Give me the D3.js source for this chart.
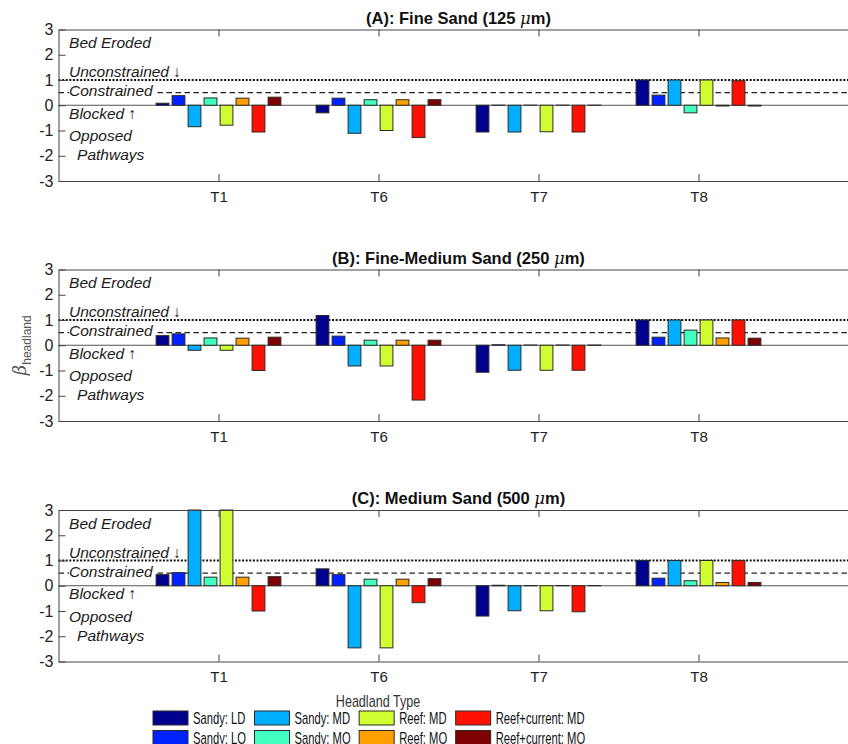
<!DOCTYPE html>
<html>
<head>
<meta charset="utf-8">
<script src="https://cdn.jsdelivr.net/npm/d3@7"></script>
<style>
  body { margin: 0; background: #fff; }
  svg { display: block; font-family: "Liberation Sans", Arial, Helvetica, sans-serif; }
</style>
</head>
<body>
<div id="chart"></div>
<script>
// headland types (legend order) and their jet-ish colours
const series = ["Sandy: LD", "Sandy: LO", "Sandy: MD", "Sandy: MO",
                "Reef: MD", "Reef: MO", "Reef+current: MD", "Reef+current: MO"];
const colors = ["#00008f", "#0022ff", "#00afff", "#40ffc0",
                "#cfff30", "#ff9f00", "#ff1000", "#7f0000"];
const groups = ["T1", "T6", "T7", "T8"];
const yTicks = [-3, -2, -1, 0, 1, 2, 3];

const panelTitles = ["(A): Fine Sand (125 ", "(B): Fine-Medium Sand (250 ", "(C): Medium Sand (500 "];

// beta_headland per group (rows) and headland type (columns)
const fineSand = [
    [0.08, 0.38, -0.85, 0.29, -0.79, 0.28, -1.06, 0.32],
    [-0.30, 0.28, -1.11, 0.22, -1.00, 0.22, -1.28, 0.22],
    [-1.06, 0.005, -1.06, 0.005, -1.05, 0.005, -1.06, 0.005],
    [1.00, 0.40, 1.00, -0.30, 1.00, -0.03, 0.97, -0.03]
];
const fineMediumSand = [
    [0.38, 0.45, -0.20, 0.29, -0.20, 0.28, -1.00, 0.32],
    [1.18, 0.36, -0.82, 0.20, -0.82, 0.20, -2.17, 0.20],
    [-1.07, 0.02, -0.99, 0.01, -0.99, 0.01, -0.99, 0.01],
    [1.00, 0.32, 1.00, 0.60, 1.00, 0.29, 1.00, 0.28]
];
const mediumSand = [
    [0.44, 0.52, 3.5, 0.34, 3.5, 0.34, -1.00, 0.36],
    [0.67, 0.44, -2.46, 0.26, -2.46, 0.26, -0.67, 0.28],
    [-1.20, 0.02, -0.99, 0.01, -0.99, 0.01, -1.03, 0.01],
    [1.00, 0.30, 1.00, 0.20, 1.00, 0.13, 1.00, 0.13]
];
const panels = [fineSand, fineMediumSand, mediumSand];

// regime labels written inside each panel
const regimeLabels = ["Bed Eroded", "Unconstrained \u2193", "Constrained", "Blocked \u2191", "Opposed", "Pathways"];
const regimeBaselines = [2.25, 1.1, 0.36, -0.53, -1.42, -2.17];

const width = 848, height = 744;
const svg = d3.select("#chart").append("svg")
    .attr("width", width)
    .attr("height", height);

// plot box runs off the right edge of the window, as in the source figure
const x = d3.scaleLinear().domain([0, 5]).range([58.5, 858.5]);
const panelTop = [29.5, 269.5, 510];
const panelH = 151.5;
const barStep = 0.1, barWidth = 0.08;
const axisColor = "#444";

panels.forEach((data, p) => {
    const y = d3.scaleLinear().domain([-3, 3]).range([panelTop[p] + panelH, panelTop[p]]).clamp(true);
    const g = svg.append("g");

    // reference lines
    g.append("line")
        .attr("x1", x(0)).attr("x2", x(5))
        .attr("y1", y(0)).attr("y2", y(0))
        .style("stroke", "#555").style("stroke-width", 1.2);
    g.append("line")
        .attr("x1", x(0)).attr("x2", x(5))
        .attr("y1", y(1)).attr("y2", y(1))
        .style("stroke", "#111").style("stroke-width", 2)
        .style("stroke-dasharray", "2,1.6");
    g.append("line")
        .attr("x1", x(0)).attr("x2", x(5))
        .attr("y1", y(0.5)).attr("y2", y(0.5))
        .style("stroke", "#222").style("stroke-width", 1.2)
        .style("stroke-dasharray", "5.5,3.5");

    // bars
    const flat = [];
    data.forEach((row, gi) => row.forEach((v, si) => flat.push({ gi, si, v })));
    g.append("g").selectAll("rect")
        .data(flat)
        .enter().append("rect")
        .attr("x", d => x(d.gi + 1 + (d.si - 3.5) * barStep - barWidth / 2))
        .attr("width", x(barWidth) - x(0))
        .attr("y", d => Math.min(y(d.v), y(0)))
        .attr("height", d => Math.abs(y(d.v) - y(0)))
        .style("fill", d => colors[d.si])
        .style("stroke", "#2a2a2a")
        .style("stroke-width", 1);

    // axes (ticks point inward)
    const yAxis = d3.axisLeft(y).tickValues(yTicks).tickFormat(d => String(d))
        .tickSizeInner(-7).tickSizeOuter(0).tickPadding(5);
    const yg = g.append("g").attr("transform", `translate(${x(0)},0)`).call(yAxis);
    const xAxis = d3.axisBottom(x).tickValues([1, 2, 3, 4])
        .tickFormat(i => groups[i - 1]).tickSizeInner(-7).tickSizeOuter(0).tickPadding(10);
    const xg = g.append("g").attr("transform", `translate(0,${y(-3)})`).call(xAxis);
    const topAxis = d3.axisTop(x).tickValues([1, 2, 3, 4])
        .tickFormat("").tickSizeInner(-7).tickSizeOuter(0);
    const tg = g.append("g").attr("transform", `translate(0,${y(3)})`).call(topAxis);
    [yg, xg, tg].forEach(a => {
        a.selectAll("path, line").style("stroke", axisColor).style("stroke-width", 1);
        a.selectAll("text").style("font-size", "16px").style("fill", "#222")
            .style("font-family", "'Liberation Sans', Arial, sans-serif");
    });
    xg.selectAll("text").style("font-size", "15px");

    // regime annotations
    regimeLabels.forEach((lab, k) => {
        const t = g.append("text")
            .attr("x", x(lab === "Pathways" ? 0.116 : 0.066))
            .attr("y", y(regimeBaselines[k]))
            .style("font-size", "15.5px")
            .style("font-style", "italic")
            .style("fill", "#1a1a1a")
            .text(lab);
        if (lab === "Constrained") {
            const b = t.node().getBBox();
            g.insert("rect", () => t.node())
                .attr("x", b.x).attr("y", b.y)
                .attr("width", b.width + 1).attr("height", b.height)
                .style("fill", "#fff");
        }
    });

    // title
    const title = g.append("text")
        .attr("x", (x(0) + x(5)) / 2)
        .attr("y", panelTop[p] - 6)
        .attr("text-anchor", "middle")
        .style("font-size", "16.5px")
        .style("font-weight", "bold")
        .style("fill", "#111");
    title.append("tspan").text(panelTitles[p]);
    title.append("tspan").style("font-style", "italic").style("font-weight", "normal")
        .style("font-family", "'DejaVu Serif', serif").text("\u03bc");
    title.append("tspan").text("m)");
});

// y axis label: beta_headland
const yl = svg.append("text")
    .attr("transform", `translate(26,${(panelTop[1] + panelH / 2)}) rotate(-90)`)
    .attr("text-anchor", "middle")
    .style("fill", "#555");
yl.append("tspan").style("font-family", "'DejaVu Serif', serif").style("font-style", "italic")
    .style("font-size", "18px").text("\u03b2");
yl.append("tspan").attr("dy", 5).style("font-size", "12px").text("headland");

// legend
const legend = svg.append("g");
legend.append("text")
    .attr("x", 378).attr("y", 707)
    .attr("text-anchor", "middle")
    .style("font-size", "17px")
    .style("fill", "#333")
    .text("Headland Type")
    .each(function() {
        const w = this.getComputedTextLength();
        d3.select(this).attr("textLength", w * 0.74).attr("lengthAdjust", "spacingAndGlyphs");
    });

const swW = 35, swH = 14, rowH = 19.5, squeeze = 0.66;
let colX = 153;
for (let c = 0; c < 4; c++) {
    let colW = 0;
    for (let r = 0; r < 2; r++) {
        const si = c * 2 + r;
        const yy = 711 + r * rowH;
        legend.append("rect")
            .attr("x", colX).attr("y", yy)
            .attr("width", swW).attr("height", swH)
            .style("fill", colors[si])
            .style("stroke", "#2a2a2a").style("stroke-width", 1);
        const t = legend.append("text")
            .attr("x", colX + swW + 5).attr("y", yy + swH / 2)
            .attr("dy", "0.36em")
            .style("font-size", "17px")
            .style("fill", "#111")
            .text(series[si]);
        const w = t.node().getComputedTextLength() * squeeze;
        t.attr("textLength", w).attr("lengthAdjust", "spacingAndGlyphs");
        colW = Math.max(colW, w);
    }
    colX += swW + 5 + colW + 8.5;
}
</script>
</body>
</html>
